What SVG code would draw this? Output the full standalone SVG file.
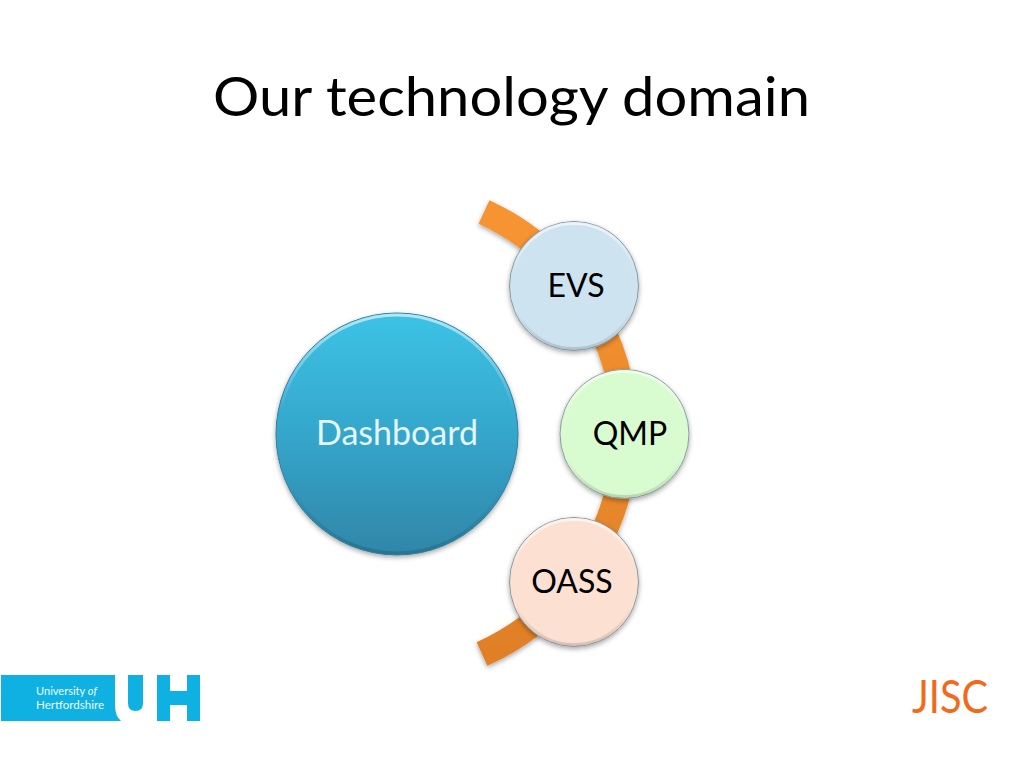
<svg xmlns="http://www.w3.org/2000/svg" width="1024" height="768" viewBox="0 0 1024 768">
<style>
.t{font-family:"Lato","Liberation Sans",sans-serif}
.n{font-size:32px;text-anchor:middle;fill:#000}
.ring{stroke:#8a9a9f;stroke-width:1}
.bevel{fill:none;stroke:url(#bev);stroke-width:3}
</style>
<defs>
<linearGradient id="dash" x1="0" y1="0" x2="0" y2="1"><stop offset="0" stop-color="#3cc3e6"/><stop offset="0.5" stop-color="#35a6cb"/><stop offset="1" stop-color="#2f86a8"/></linearGradient>
<linearGradient id="band" x1="0" y1="0" x2="0" y2="1"><stop offset="0" stop-color="#f79433"/><stop offset="1" stop-color="#e07f26"/></linearGradient>
<linearGradient id="bev" x1="0" y1="0" x2="0" y2="1"><stop offset="0" stop-color="#fff" stop-opacity="0.6"/><stop offset="0.4" stop-color="#fff" stop-opacity="0"/><stop offset="0.7" stop-color="#000" stop-opacity="0"/><stop offset="1" stop-color="#000" stop-opacity="0.14"/></linearGradient>
<filter id="sh" x="-20%" y="-20%" width="140%" height="140%"><feDropShadow dx="0" dy="2" stdDeviation="2.500" flood-color="#000" flood-opacity="0.35"/></filter>
</defs>
<rect width="1024" height="768" fill="#fff"/>
<text class="t" x="511.500" y="116" font-size="55" text-anchor="middle" textLength="597" lengthAdjust="spacingAndGlyphs">Our technology domain</text>
<g id="connectors">
<path d="M484 212A243 243 0 0 1 482 654" fill="none" stroke="url(#band)" stroke-width="26" filter="url(#sh)"/>
</g>
<g id="dashboard">
<circle cx="397" cy="434" r="121" fill="url(#dash)" stroke="#2f7f9c" stroke-width="1" filter="url(#sh)"/>
<circle class="bevel" cx="397" cy="434" r="119"/>
<text class="t n" x="397" y="445" style="fill:#e4f6fb;font-size:34px">Dashboard</text>
</g>
<g id="evs">
<circle class="ring" cx="574" cy="286" r="64.500" fill="#cde4f0" filter="url(#sh)"/>
<circle class="bevel" cx="574" cy="286" r="62.500"/>
<text class="t n" x="576" y="297">EVS</text>
</g>
<g id="qmp">
<circle class="ring" cx="624.500" cy="434" r="64.500" fill="#d9fbd0" filter="url(#sh)"/>
<circle class="bevel" cx="624.500" cy="434" r="62.500"/>
<text class="t n" x="630" y="445">QMP</text>
</g>
<g id="oass">
<circle class="ring" cx="574" cy="582" r="64.500" fill="#fce0d2" filter="url(#sh)"/>
<circle class="bevel" cx="574" cy="582" r="62.500"/>
<text class="t n" x="572" y="593">OASS</text>
</g>
<g id="uh-logo">
<path d="M1 675H115V705Q115 716 121 721H1Z" fill="#0fb1e3"/>
<path d="M128 675H143V703Q143 711 135.500 711Q128 711 128 703Z" fill="#0fb1e3"/>
<path d="M157 675H170V691H187V675H200V721H187V705H170V721H157Z" fill="#0fb1e3"/>
<text class="t" x="36" y="695" font-size="11" fill="#eefafe" textLength="61" lengthAdjust="spacingAndGlyphs">University<tspan font-style="italic"> of</tspan></text>
<text class="t" x="36" y="709" font-size="11" fill="#eefafe" textLength="68" lengthAdjust="spacingAndGlyphs">Hertfordshire</text>
</g>
<g id="jisc-logo">
<text class="t" x="912" y="713" font-size="46" fill="#f26a1b" textLength="76" lengthAdjust="spacingAndGlyphs">JISC</text>
</g>
</svg>
